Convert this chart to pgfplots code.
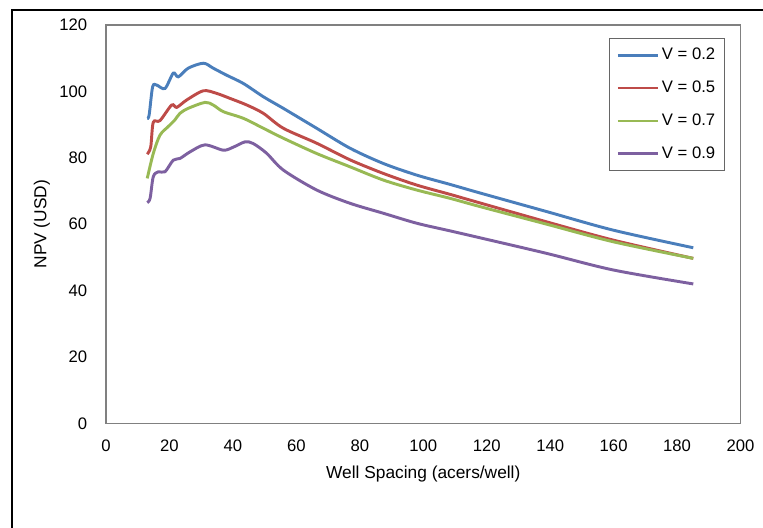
\documentclass[border=0pt]{standalone}
\usepackage{fontspec}
\setmainfont{Liberation Sans}
\usepackage{pgfplots}
\pgfplotsset{compat=1.18}

\definecolor{vblue}{HTML}{4A7EBB}
\definecolor{vred}{HTML}{BE4B48}
\definecolor{vgreen}{HTML}{98B954}
\definecolor{vpurple}{HTML}{7D60A0}
\definecolor{boxgray}{HTML}{808080}

% NPV vs well spacing, one table per Dykstra-Parsons V
\pgfplotstableread{
x y
13.0 91.9
13.6 92.9
14.7 101.4
16.0 101.9
18.6 100.9
21.2 105.5
22.8 104.4
25.9 107.0
30.7 108.5
33.8 107.0
38.0 104.9
43.3 102.4
49.6 98.4
55.9 94.9
66.4 88.9
76.9 82.9
87.4 78.3
97.9 74.8
108.4 72.0
117.9 69.4
138.9 63.8
159.9 58.2
185.1 52.9
}\vtwo
\pgfplotstableread{
x y
13.0 81.1
14.1 83.3
14.9 90.7
17.0 91.2
20.7 95.9
22.3 95.2
25.4 97.4
30.7 100.2
34.9 99.4
39.1 97.9
44.4 95.9
49.6 93.4
55.9 88.9
66.4 84.4
76.9 79.4
87.4 75.3
97.9 71.8
108.4 69.0
117.9 66.4
138.9 60.7
159.9 55.2
185.1 49.7
}\vfive
\pgfplotstableread{
x y
13.0 73.8
14.9 81.3
17.0 86.8
19.6 89.4
21.7 91.4
23.3 93.4
25.9 94.9
31.2 96.7
33.8 95.9
37.0 93.9
43.3 91.9
49.6 88.9
55.9 85.9
66.4 81.3
76.9 77.3
87.4 73.3
97.9 70.3
108.4 67.8
117.9 65.3
138.9 60.0
159.9 54.7
185.1 49.7
}\vseven
\pgfplotstableread{
x y
13.0 66.5
13.9 67.8
14.9 74.3
16.5 75.8
18.6 75.8
21.2 79.3
23.3 79.8
26.5 81.8
31.2 83.9
37.0 82.3
40.1 83.2
43.8 84.8
46.4 84.3
50.6 81.4
55.9 76.3
66.4 70.3
76.9 66.3
87.4 63.3
97.9 60.3
108.4 58.0
117.9 55.9
138.9 51.2
159.9 46.2
185.1 42.0
}\vnine

\begin{document}
\begin{tikzpicture}
\useasboundingbox (-79.5pt,-77.8pt) rectangle (492.75pt,317.5pt);
\draw[black, line width=1.5pt] (-70.5pt,-100pt) -- (-70.5pt,310pt) -- (520pt,310pt);
\begin{axis}[
    at={(0pt,0pt)}, anchor=south west,
    scale only axis,
    width=475.9pt, height=298.7pt,
    xmin=0, xmax=200, ymin=0, ymax=120,
    xtick={0,20,...,200}, ytick={0,20,...,120},
    major tick length=0pt,
    axis line style={boxgray, line width=1.1pt},
    /pgf/number format/assume math mode=true,
    tick label style={font=\fontsize{12.5}{14}\selectfont},
    yticklabel style={anchor=east, inner sep=0pt, xshift=-14pt},
    xticklabel style={anchor=north, inner sep=0pt, yshift=-12pt},
    xlabel={Well Spacing (acers/well)},
    ylabel={NPV (USD)},
    every axis x label/.style={at={(axis description cs:0.5,0)}, anchor=center,
        yshift=-38pt, font=\fontsize{13}{15}\selectfont},
    every axis y label/.style={at={(axis description cs:-0.1009,0.5)}, anchor=center,
        rotate=90, font=\fontsize{13}{15}\selectfont},
    legend cell align=left,
    legend image code/.code={\draw[#1] (0pt,0pt) -- (30pt,0pt);},
    legend style={
        at={(axis description cs:0.9756,0.9666)}, anchor=north east,
        draw=boxgray!80!black, line width=0.8pt,
        font=\fontsize{12.5}{14}\selectfont,
        inner xsep=5pt, inner ysep=5pt,
        row sep=10.5pt,
    },
    every axis plot/.append style={line width=2.2pt, smooth, tension=0.5},
]
\addplot[vblue] table {\vtwo};
\addplot[vred] table {\vfive};
\addplot[vgreen] table {\vseven};
\addplot[vpurple] table {\vnine};
\legend{V = 0.2, V = 0.5, V = 0.7, V = 0.9}
\end{axis}
\end{tikzpicture}
\end{document}
